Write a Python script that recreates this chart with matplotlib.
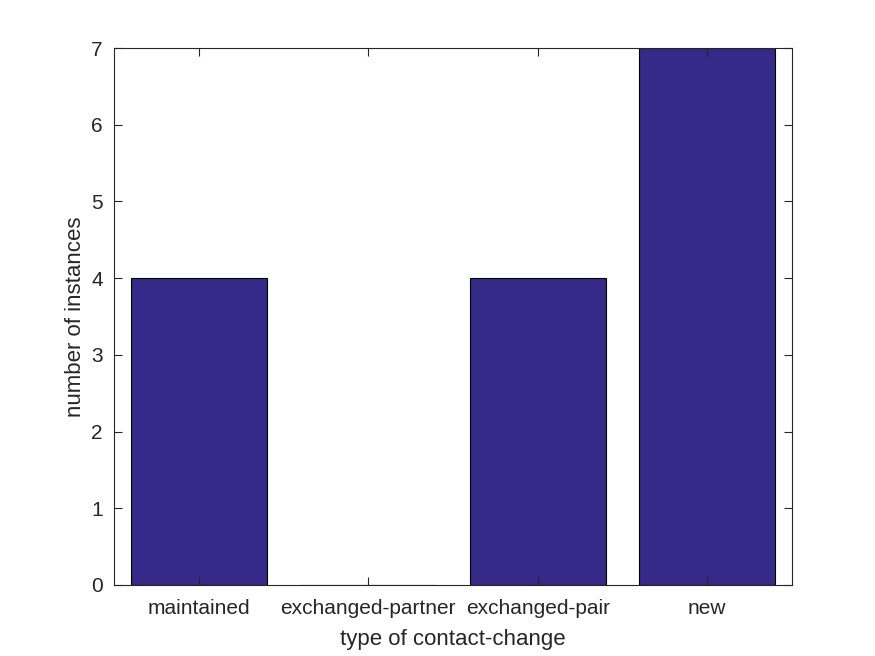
import matplotlib.pyplot as plt

categories = ['maintained', 'exchanged-partner', 'exchanged-pair', 'new']
counts = [4, 0, 4, 7]

plt.rcParams['font.family'] = ['Liberation Sans', 'DejaVu Sans']

fig = plt.figure(figsize=(8.75, 6.56), dpi=100)
ax = fig.add_axes([114 / 875, 1 - 585 / 656, (792 - 114) / 875, (585 - 48) / 656])

x = list(range(1, len(categories) + 1))
ax.bar(x, counts, width=0.8, color='#352a87', edgecolor='black', linewidth=0.8)

ax.set_xlim(0.5, 4.5)
ax.set_ylim(0, 7)
ax.set_xticks(x)
ax.set_xticklabels(categories)
ax.set_yticks(range(0, 8))

ax.tick_params(direction='in', top=True, right=True, length=6, width=0.8,
               colors='#262626', labelsize=15)
ax.tick_params(axis='x', pad=10)
ax.tick_params(axis='y', pad=8)
for s in ax.spines.values():
    s.set_color('#262626')
    s.set_linewidth(0.8)

ax.set_xlabel('type of contact-change', fontsize=16, color='#262626', labelpad=8)
ax.set_ylabel('number of instances', fontsize=16, color='#262626', labelpad=4)

fig.savefig('out.png', dpi=100)
